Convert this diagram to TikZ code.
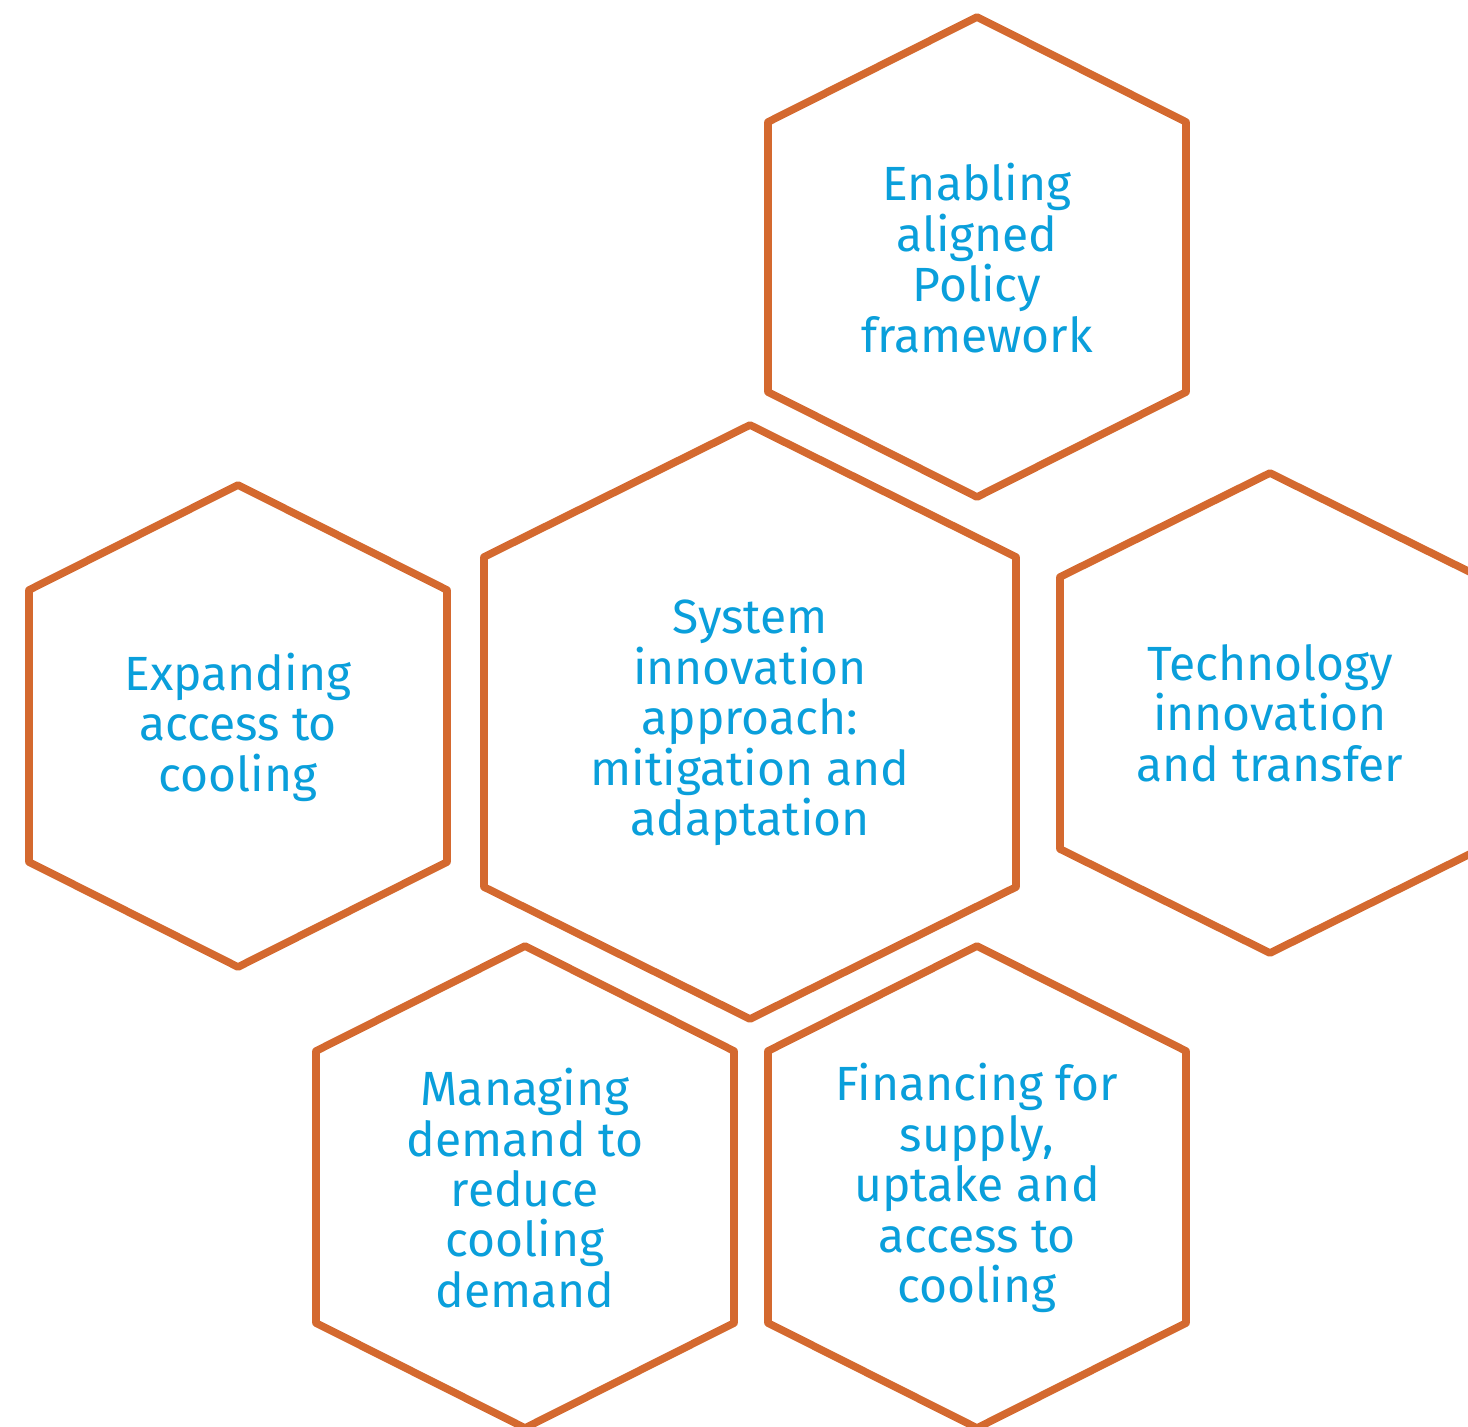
\documentclass[tikz,border=0pt]{standalone}
\usepackage{fontspec}
\setmainfont{Fira Sans}
\definecolor{hexorange}{HTML}{D4692F}
\definecolor{txtblue}{HTML}{0A9FDB}
\newcommand\hexdraw[4]{\draw[hexline,shift={(#1)}] (0,-#3) -- (-#2,-#4) -- (-#2,#4) -- (0,#3) -- (#2,#4) -- (#2,-#4) -- cycle;}
\begin{document}
\begin{tikzpicture}[x=0.5pt,y=-0.5pt,
  hexline/.style={draw=hexorange,line width=3.8pt,line join=round},
  lbl/.style={text=txtblue,align=center,font=\fontsize{24pt}{25.2pt}\selectfont,inner sep=0pt}]
\clip (0,0) rectangle (1468,1426);
\fill[white] (0,0) rectangle (1468,1426);
\node[lbl] (enab) at (977,258) {Enabling\\aligned\\Policy\\framework};
\node[lbl] (sys) at (750,723) {System\\innovation\\approach:\\mitigation and\\adaptation};
\node[lbl] (exp) at (238,727) {Expanding\\access to\\cooling};
\node[lbl] (tech) at (1270,713) {Technology\\innovation\\and transfer};
\node[lbl] (man) at (525,1188) {Managing\\demand to\\reduce\\cooling\\demand};
\node[lbl] (fin) at (977,1188) {Financing for\\supply,\\uptake and\\access to\\cooling};
\hexdraw{977,257}{209}{240}{135}
\hexdraw{750,722}{266}{297}{165}
\hexdraw{238,726}{209}{241}{136}
\hexdraw{1270,713}{210}{240}{136}
\hexdraw{525,1187}{209}{241}{136}
\hexdraw{977,1187}{209}{241}{136}
\end{tikzpicture}
\end{document}
